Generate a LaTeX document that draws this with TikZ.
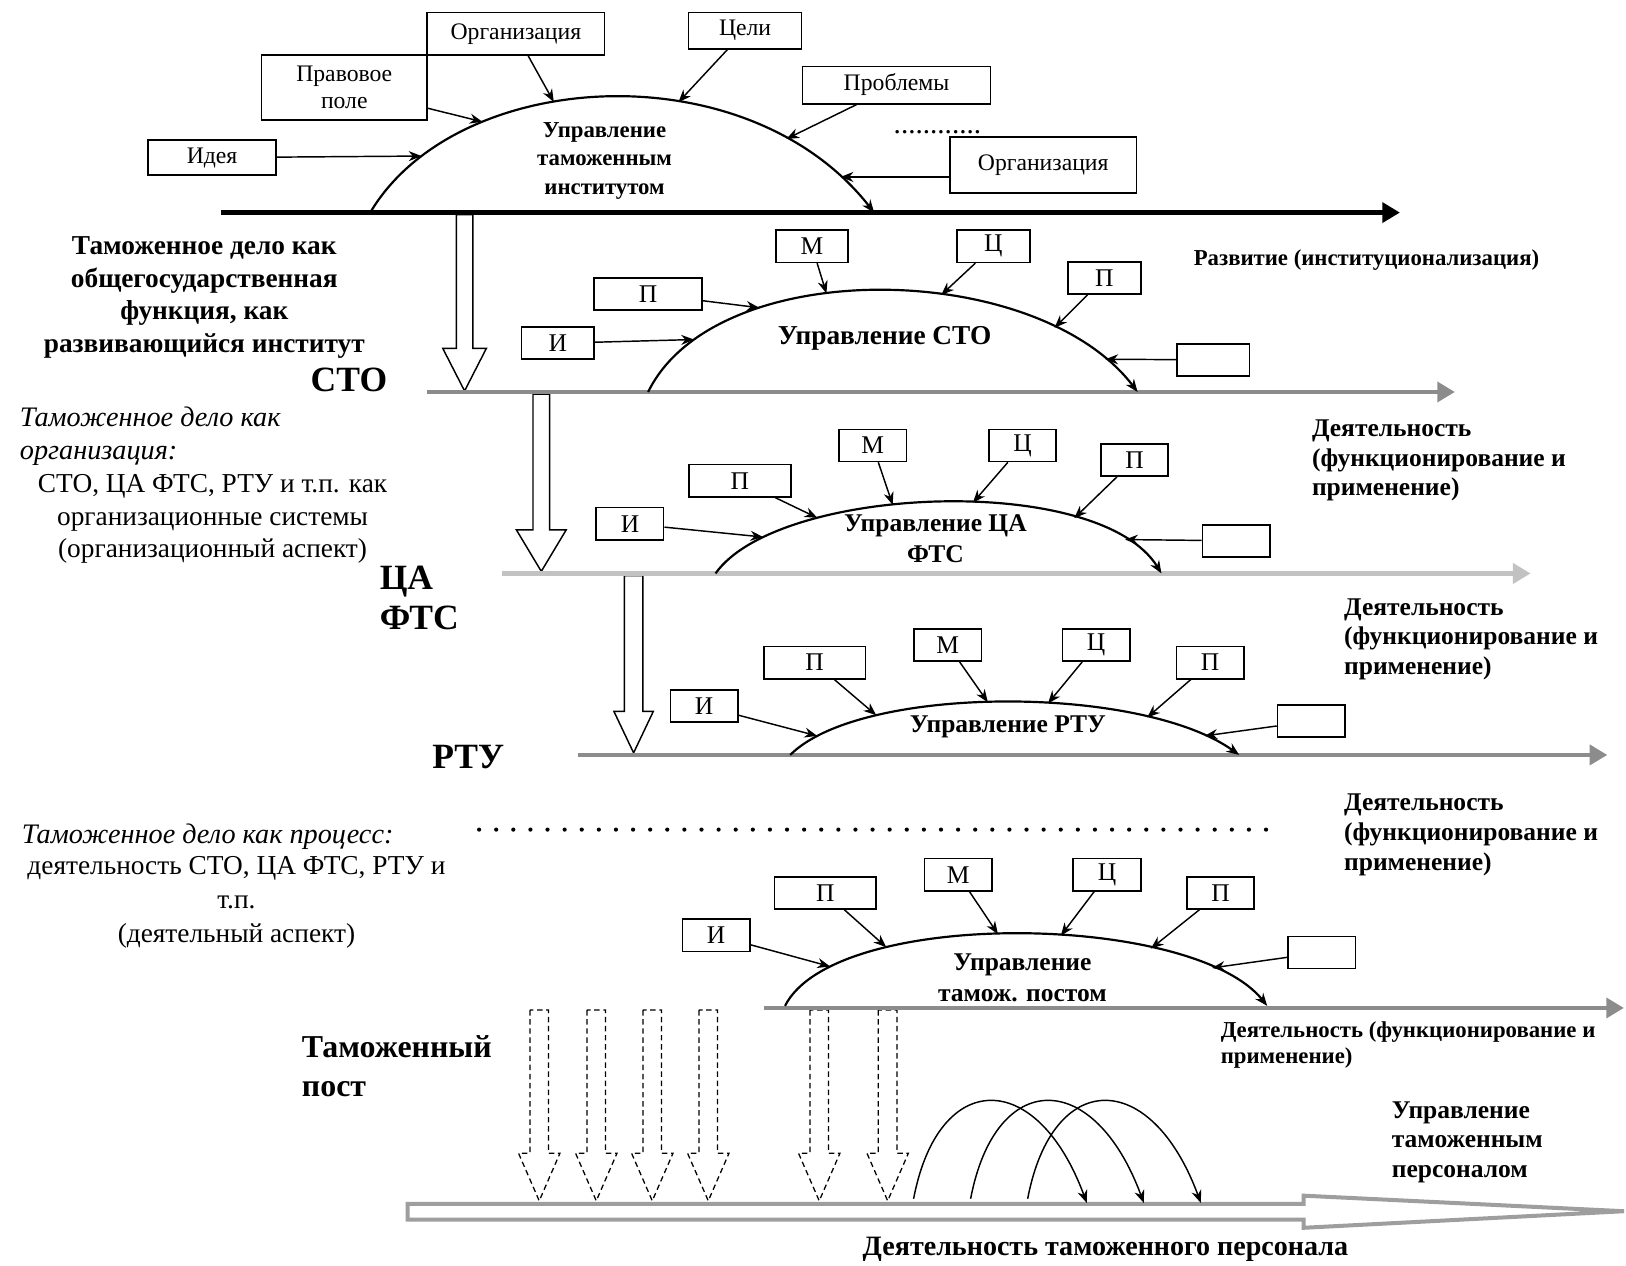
\documentclass[tikz,border=0pt]{standalone}
\usepackage{fontspec}
\setmainfont{Liberation Serif}
\usetikzlibrary{arrows.meta}

\definecolor{axisgray}{HTML}{8C8C8C}
\definecolor{lightaxis}{HTML}{C2C2C2}
\definecolor{framegray}{HTML}{9E9E9E}

\tikzset{
  box/.style={draw, line width=0.9pt, inner sep=0pt, minimum height=0.62cm,
    font=\fontsize{14}{16}\selectfont},
  sbox/.style={box, minimum width=1.3cm},
  wbox/.style={box, minimum width=1.96cm},
  topbox/.style={draw, line width=0.9pt, inner sep=0pt, align=center,
    font=\fontsize{13}{14.7}\selectfont},
  arch/.style={line width=1.2pt, -{Stealth[length=7pt,width=5.5pt]}},
  feed/.style={line width=0.8pt, -{Stealth[length=7pt,width=5.5pt]}},
  axis/.style={line width=2.5pt, -{Triangle[length=0.34cm,width=0.38cm]}},
  blockarrow/.style={draw, fill=white, line width=0.8pt},
  title/.style={font=\fontsize{14}{17.4}\selectfont\bfseries, align=center},
  side/.style={font=\fontsize{14}{16.4}\selectfont\bfseries, align=left, anchor=west},
  big/.style={font=\fontsize{19.5}{22}\selectfont\bfseries},
}

\begin{document}
\begin{tikzpicture}[x=0.02cm, y=-0.02cm]
  \useasboundingbox (0,0) rectangle (1568,1220);

  % Block arrows between levels
  \draw[blockarrow] (440,207) -- (440,336) -- (427,336) -- (448,377) -- (469,336) -- (456,336) -- (456,207) -- cycle;
  \draw[blockarrow] (514,380) -- (514,511) -- (498,511) -- (522,551) -- (546,511) -- (530,511) -- (530,380) -- cycle;
  \draw[blockarrow] (602,555) -- (602,686) -- (592,686) -- (611,726) -- (630,686) -- (620,686) -- (620,555) -- cycle;

  % Institute level
  \draw[axis] (213,205) -- (1350,205);
  \node[topbox, minimum width=2.46cm, minimum height=0.68cm] (idea) at (204.5,152) {Идея};
  \node[topbox, minimum width=3.2cm, minimum height=1.26cm] (pravo) at (332,84.5) {Правовое\\поле};
  \node[topbox, minimum width=3.42cm, minimum height=0.82cm] (orgA) at (497.5,32.5) {Организация};
  \node[topbox, minimum width=2.18cm, minimum height=0.7cm] (celi) at (718.5,29.5) {Цели};
  \node[topbox, minimum width=3.62cm, minimum height=0.72cm] (probl) at (864.5,82) {Проблемы};
  \node[topbox, minimum width=3.6cm, minimum height=1.08cm] (orgB) at (1006,159) {Организация};
  \node[font=\fontsize{16}{18}\selectfont] (etc) at (904,127) {............};
  \draw[arch] (357,205) .. controls (440,65) and (720,48) .. (843,205)
    coordinate[pos=0.15] (h1) coordinate[pos=0.28] (h2) coordinate[pos=0.41] (h3)
    coordinate[pos=0.62] (h4) coordinate[pos=0.81] (h5) coordinate[pos=0.92] (h6);
  \draw[feed] (idea) -- (h1);
  \draw[feed] (pravo) -- (h2);
  \draw[feed] (orgA) -- (h3);
  \draw[feed] (celi) -- (h4);
  \draw[feed] (probl) -- (h5);
  \draw[feed] (orgB.west |- h6) -- (h6);
  \node[title, font=\fontsize{12.5}{15.6}\selectfont\bfseries] (inst) at (583,155) {Управление\\таможенным\\институтом};
  \node[side, font=\fontsize{12.5}{15}\selectfont\bfseries] (devel) at (1145,251) {Развитие (институционализация)};

  % STO level
  \draw[axis, axisgray] (412,378) -- (1403,378);
  \node[box, minimum width=1.4cm] (m2) at (783,237.5) {М};
  \node[box, minimum width=1.4cm] (c2) at (958,237.5) {Ц};
  \node[box, minimum width=2.08cm] (p2a) at (625,283.5) {П};
  \node[box, minimum width=1.4cm] (i2) at (538,331) {И};
  \node[box, minimum width=1.4cm] (p2b) at (1065,268) {П};
  \node[box, minimum width=1.4cm] (e2) at (1170,347) {};
  \draw[arch] (625,378) .. controls (690,245) and (1000,250) .. (1097,378)
    coordinate[pos=0.15] (s2i) coordinate[pos=0.29] (s2pa) coordinate[pos=0.41] (s2m)
    coordinate[pos=0.6] (s2c) coordinate[pos=0.8] (s2pb) coordinate[pos=0.91] (s2e);
  \draw[feed] (i2) -- (s2i);
  \draw[feed] (p2a) -- (s2pa);
  \draw[feed] (m2) -- (s2m);
  \draw[feed] (c2) -- (s2c);
  \draw[feed] (p2b) -- (s2pb);
  \draw[feed] (e2) -- (s2e);
  \node[title, font=\fontsize{15}{17}\selectfont\bfseries] (sto) at (853,326) {Управление СТО};
  \node[side] (act2) at (1259,444) {Деятельность\\(функционирование и\\применение)};

  % CA FTS level
  \draw[axis, lightaxis] (484,553) -- (1476,553);
  \node[sbox] (m3) at (841.5,429.5) {М};
  \node[sbox] (c3) at (986,429.5) {Ц};
  \node[wbox] (p3a) at (713.5,463.5) {П};
  \node[sbox] (i3) at (607.5,505) {И};
  \node[sbox] (p3b) at (1094,443.5) {П};
  \node[sbox] (e3) at (1192,521.5) {};
  \draw[arch] (690,553) .. controls (750,468) and (1060,455) .. (1120,553)
    coordinate[pos=0.16] (s3i) coordinate[pos=0.28] (s3pa) coordinate[pos=0.42] (s3m)
    coordinate[pos=0.56] (s3c) coordinate[pos=0.75] (s3pb) coordinate[pos=0.87] (s3e);
  \draw[feed] (i3) -- (s3i);
  \draw[feed] (p3a) -- (s3pa);
  \draw[feed] (m3) -- (s3m);
  \draw[feed] (c3) -- (s3c);
  \draw[feed] (p3b) -- (s3pb);
  \draw[feed] (e3) -- (s3e);
  \node[title] (fts) at (902,519.5) {Управление ЦА\\ФТС};
  \node[side] (act3) at (1290,616.5) {Деятельность\\(функционирование и\\применение)};

  % RTU level
  \draw[axis, axisgray] (557,728) -- (1550,728);
  \node[wbox] (p4a) at (785.5,639) {П};
  \node[sbox] (m4) at (914,622) {М};
  \node[sbox] (c4) at (1057,622) {Ц};
  \node[sbox] (p4b) at (1167,639) {П};
  \node[sbox] (i4) at (679,681) {И};
  \node[sbox] (e4) at (1264.5,695.5) {};
  \draw[arch] (762,728) .. controls (830,660) and (1100,660) .. (1195,728)
    coordinate[pos=0.1] (s4i) coordinate[pos=0.25] (s4pa) coordinate[pos=0.47] (s4m)
    coordinate[pos=0.58] (s4c) coordinate[pos=0.77] (s4pb) coordinate[pos=0.9] (s4e);
  \draw[feed] (i4) -- (s4i);
  \draw[feed] (p4a) -- (s4pa);
  \draw[feed] (m4) -- (s4m);
  \draw[feed] (c4) -- (s4c);
  \draw[feed] (p4b) -- (s4pb);
  \draw[feed] (e4) -- (s4e);
  \node[title] (rtu) at (972,701) {Управление РТУ};
  \node[side] (act4) at (1290,805) {Деятельность\\(функционирование и\\применение)};

  % Dots between levels
  \draw[line width=2.3pt, line cap=round, dash pattern=on 0pt off 0.33cm] (462,800) -- (1226,800);

  % Dashed arrows to the personnel
  \foreach \x in {520,575,629,683,790,856}
    \draw[blockarrow, line width=0.7pt, dash pattern=on 3pt off 2pt]
      ({\x-9},974) -- ({\x-9},1112) -- ({\x-20},1112) -- (\x,1158) -- ({\x+20},1112) -- ({\x+9},1112) -- ({\x+9},974) -- cycle;

  % Customs post level
  \draw[axis, axisgray] (737,972) -- (1566,972);
  \node[wbox] (p5a) at (796,861) {П};
  \node[sbox] (m5) at (924,843.5) {М};
  \node[sbox] (c5) at (1067.5,843.5) {Ц};
  \node[sbox] (p5b) at (1177,861) {П};
  \node[sbox] (i5) at (690.5,902) {И};
  \node[sbox] (e5) at (1274.5,918.5) {};
  \draw[arch] (757,970) .. controls (805,875) and (1150,880) .. (1222,970)
    coordinate[pos=0.16] (s5i) coordinate[pos=0.28] (s5pa) coordinate[pos=0.47] (s5m)
    coordinate[pos=0.57] (s5c) coordinate[pos=0.72] (s5pb) coordinate[pos=0.84] (s5e);
  \draw[feed] (i5) -- (s5i);
  \draw[feed] (p5a) -- (s5pa);
  \draw[feed] (m5) -- (s5m);
  \draw[feed] (c5) -- (s5c);
  \draw[feed] (p5b) -- (s5pb);
  \draw[feed] (e5) -- (s5e);
  \node[title, font=\fontsize{14}{17}\selectfont\bfseries] (post) at (986,943) {Управление\\тамож. постом};
  \node[side, font=\fontsize{12.5}{14.4}\selectfont\bfseries] (act5) at (1171,1007.5) {Деятельность (функционирование и\\применение)};

  % Personnel
  \draw[line width=2.2pt, framegray, fill=white] (393,1161) -- (1257,1161) -- (1257,1153) -- (1566,1168)
    -- (1257,1184) -- (1257,1176) -- (393,1176) -- cycle;
  \foreach \d in {0,55,110}
    \draw[feed] ({881+\d},1156) .. controls ({905+\d},1030) and ({1000+\d},1030) .. ({1048+\d},1160);
  \node[side] (staff) at (1336,1101.5) {Управление\\таможенным\\персоналом};
  \node[font=\fontsize{15.4}{17}\selectfont\bfseries] (work) at (1066,1205) {Деятельность таможенного персонала};

  % Left column
  \node[font=\fontsize{15}{17.8}\selectfont\bfseries, align=center] (func) at (197,287)
    {Таможенное дело как\\общегосударственная\\функция, как\\развивающийся институт};
  \node[big] (lsto) at (336.5,366) {СТО};
  \node[font=\fontsize{15.5}{18}\selectfont\itshape, align=left, anchor=west] (org) at (13,421)
    {Таможенное дело как\\организация:};
  \node[font=\fontsize{15}{17.9}\selectfont, align=center] (orgsys) at (205,500.5)
    {СТО, ЦА ФТС, РТУ и т.п. как\\организационные системы\\(организационный аспект)};
  \node[big, align=left, anchor=west] (lfts) at (360,576.5) {ЦА\\ФТС};
  \node[big] (lrtu) at (451.5,730) {РТУ};
  \node[font=\fontsize{15.5}{18}\selectfont\itshape, anchor=west] (proc) at (15,807) {Таможенное дело как процесс:};
  \node[font=\fontsize{15}{18.7}\selectfont, align=center] (procsys) at (228,870)
    {деятельность СТО, ЦА ФТС, РТУ и\\т.п.\\(деятельный аспект)};
  \node[font=\fontsize{17.5}{21.5}\selectfont\bfseries, align=left, anchor=west] (lpost) at (285,1028) {Таможенный\\пост};
\end{tikzpicture}
\end{document}
